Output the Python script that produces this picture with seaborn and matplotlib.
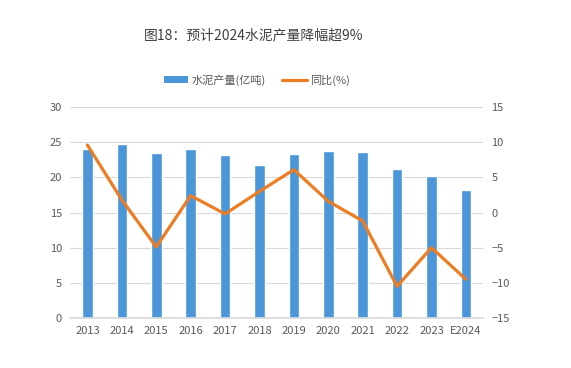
import numpy as np
import pandas as pd
import matplotlib
matplotlib.use('Agg')
import matplotlib.pyplot as plt
from matplotlib.patches import Patch
from matplotlib.lines import Line2D
import seaborn as sns

years = ['2013', '2014', '2015', '2016', '2017', '2018', '2019', '2020', '2021', '2022', '2023', 'E2024']
output = [24.0, 24.8, 23.5, 24.0, 23.2, 21.8, 23.3, 23.8, 23.6, 21.2, 20.2, 18.2]
yoy = [9.6, 1.8, -4.9, 2.4, -0.2, 3.0, 6.1, 1.6, -1.2, -10.5, -5.0, -9.5]

sns.set_theme(style='white')
plt.rcParams['font.family'] = ['Noto Sans CJK SC', 'DejaVu Sans']

bar_color = '#4A96D8'
line_color = '#EC7D22'
text_color = '#595959'

df = pd.DataFrame({'year': years, 'output': output, 'yoy': yoy, 'pos': np.arange(len(years))})

fig = plt.figure(figsize=(5.71, 3.68), dpi=100)
ax = fig.add_axes([0.123, 0.136, 0.723, 0.573])

sns.barplot(data=df, x='year', y='output', color=bar_color, width=0.31, saturation=1, ax=ax, zorder=2)
ax.set_ylim(0, 30)
ax.set_yticks(range(0, 31, 5))
ax.set_xlim(-0.5, len(years) - 0.5)
ax.grid(axis='y', color='#D9D9D9', linewidth=0.8, zorder=0)
ax.set_axisbelow(True)
ax.set_xlabel('')
ax.set_ylabel('')
for s in ['top', 'right', 'left']:
    ax.spines[s].set_visible(False)
ax.spines['bottom'].set_color('#D9D9D9')
ax.tick_params(axis='both', labelsize=8, colors=text_color, length=0, pad=6)

ax2 = ax.twinx()
sns.lineplot(data=df, x='pos', y='yoy', color=line_color, linewidth=2.3, ax=ax2)
ax2.set_ylim(-15, 15)
ax2.set_yticks(range(-15, 16, 5))
ax2.set_xlim(-0.5, len(years) - 0.5)
ax2.set_ylabel('')
ax2.set_xlabel('')
for s in ax2.spines.values():
    s.set_visible(False)
ax2.tick_params(axis='y', labelsize=8, colors=text_color, length=0, pad=6)

fig.text(0.445, 0.905, '图18：预计2024水泥产量降幅超9%', ha='center', va='center',
         fontsize=10, color='#404040', fontweight='medium')

handles = [Patch(facecolor=bar_color, edgecolor='none'),
           Line2D([0], [0], color=line_color, linewidth=2.3)]
fig.legend(handles, ['水泥产量(亿吨)', '同比(%)'], loc='center', bbox_to_anchor=(0.45, 0.783),
           ncol=2, frameon=False, fontsize=8, labelcolor=text_color,
           handlelength=2.2, handleheight=0.6, columnspacing=1.5, handletextpad=0.3)

fig.savefig('out.png', dpi=100, facecolor='white')
